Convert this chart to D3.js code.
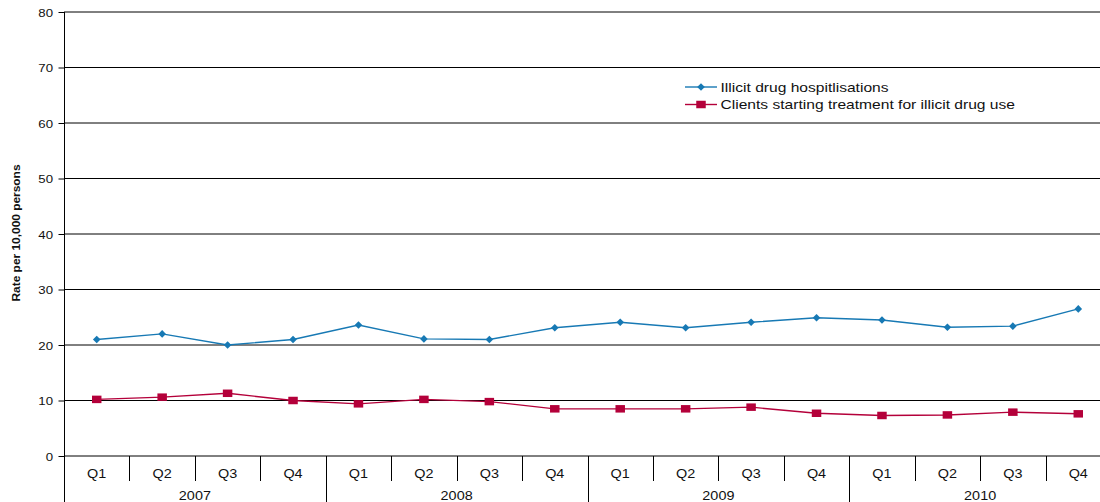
<!DOCTYPE html>
<html>
<head>
<meta charset="utf-8">
<script src="https://cdn.jsdelivr.net/npm/d3@7"></script>
<style>
  html, body { margin: 0; padding: 0; background: #fff; }
  svg { display: block; font-family: "Liberation Sans", Arial, sans-serif; }
</style>
</head>
<body>
<svg id="chart" width="1100" height="502"></svg>
<script>
// Quarterly rates per 10,000 persons, 2007–2010
const years = ["2007", "2008", "2009", "2010"];
const quarters = ["Q1", "Q2", "Q3", "Q4"];
const hospitalisations = [21.0, 22.0, 20.0, 21.0, 23.6, 21.1, 21.0, 23.1, 24.1, 23.1, 24.1, 24.9, 24.5, 23.2, 23.4, 26.5];
const treatmentStarts = [10.2, 10.6, 11.3, 10.0, 9.4, 10.2, 9.8, 8.5, 8.5, 8.5, 8.8, 7.7, 7.3, 7.4, 7.9, 7.6];
const yTicks = [0, 10, 20, 30, 40, 50, 60, 70, 80];

const seriesNames = ["Illicit drug hospitlisations", "Clients starting treatment for illicit drug use"];
const colors = ["#1779b4", "#b4003a"];

const periods = years.flatMap(yr => quarters.map(q => yr + " " + q));

const svg = d3.select("#chart");
const plotLeft = 64, plotTop = 12, plotBottom = 456, plotRight = 1111;
const textStretch = 1.2; // wide-set lettering

const x = d3.scaleBand().domain(periods).range([plotLeft, plotRight]).padding(0);
const y = d3.scaleLinear().domain([0, 80]).range([plotBottom, plotTop]);
const cx = p => x(p) + x.bandwidth() / 2;

// Place a text at (tx, ty) with horizontally widened glyphs
function placeText(sel, tx, ty) {
  sel.attr("x", 0).attr("y", 0)
    .attr("transform", (d, i) => {
      const px = typeof tx === "function" ? tx(d, i) : tx;
      const py = typeof ty === "function" ? ty(d, i) : ty;
      return `translate(${px},${py}) scale(${textStretch},1)`;
    });
}

// Horizontal gridlines
svg.append("g")
  .selectAll("line")
  .data(yTicks)
  .join("line")
  .attr("x1", plotLeft).attr("x2", 1100)
  .attr("y1", d => y(d)).attr("y2", d => y(d))
  .attr("stroke", "#000").attr("stroke-width", 1);

// Value axis
const yAxis = svg.append("g")
  .attr("transform", `translate(${plotLeft + 0.5},0)`)
  .call(d3.axisLeft(y).tickValues(yTicks).tickSize(6).tickPadding(5));
yAxis.select(".domain").remove();
yAxis.selectAll(".tick line").attr("stroke", "#000");
const yLabels = yAxis.selectAll(".tick text")
  .attr("font-size", 11).attr("fill", "#111")
  .attr("dy", "0.4em")
  .style("font-family", "'Liberation Sans', Arial, sans-serif");
placeText(yLabels, -11.5, 0);

// Left axis line down to the bottom of the category labels
svg.append("line")
  .attr("x1", plotLeft + 0.5).attr("x2", plotLeft + 0.5)
  .attr("y1", plotTop).attr("y2", 502)
  .attr("stroke", "#000");

// Quarter and year separators
svg.append("g")
  .selectAll("line")
  .data(periods.slice(1))
  .join("line")
  .attr("x1", d => Math.round(x(d)) + 0.5).attr("x2", d => Math.round(x(d)) + 0.5)
  .attr("y1", plotBottom)
  .attr("y2", d => d.endsWith("Q1") ? 502 : 481)
  .attr("stroke", "#000");

// Quarter labels
placeText(
  svg.append("g")
    .selectAll("text")
    .data(periods)
    .join("text")
    .attr("text-anchor", "middle")
    .attr("font-size", 12)
    .attr("fill", "#111")
    .text(d => d.split(" ")[1]),
  d => cx(d), 478);

// Year labels
placeText(
  svg.append("g")
    .selectAll("text")
    .data(years)
    .join("text")
    .attr("text-anchor", "middle")
    .attr("font-size", 12)
    .attr("fill", "#111")
    .text(d => d),
  d => (x(d + " Q1") + x(d + " Q4") + x.bandwidth()) / 2, 500);

// Axis title
svg.append("text")
  .attr("transform", "translate(20,233) rotate(-90)")
  .attr("text-anchor", "middle")
  .attr("font-size", 10.5)
  .attr("font-weight", "bold")
  .attr("textLength", 137)
  .attr("lengthAdjust", "spacingAndGlyphs")
  .attr("fill", "#111")
  .text("Rate per 10,000 persons");

// Marker shapes
function diamondPath(r) {
  return `M0,${-r}L${r},0L0,${r}L${-r},0Z`;
}
function boxPath(w, h) {
  return `M${-w / 2},${-h / 2}h${w}v${h}h${-w}Z`;
}
const markers = [diamondPath(3.8), boxPath(9.5, 7.5)];

// Series
const line = d3.line()
  .x((d, i) => cx(periods[i]))
  .y(d => y(d));

const allSeries = [hospitalisations, treatmentStarts];

allSeries.forEach((vals, si) => {
  svg.append("path")
    .datum(vals)
    .attr("d", line)
    .attr("fill", "none")
    .attr("stroke", colors[si])
    .attr("stroke-width", 1.4);
  svg.append("g")
    .selectAll("path")
    .data(vals)
    .join("path")
    .attr("d", markers[si])
    .attr("transform", (d, i) => `translate(${cx(periods[i])},${y(d)})`)
    .attr("fill", colors[si]);
});

// Legend
const legend = svg.append("g");
seriesNames.forEach((name, si) => {
  const ly = 87 + si * 17.5;
  legend.append("line")
    .attr("x1", 685).attr("x2", 717)
    .attr("y1", ly).attr("y2", ly)
    .attr("stroke", colors[si]).attr("stroke-width", 1.4);
  legend.append("path")
    .attr("d", markers[si])
    .attr("transform", `translate(701,${ly})`)
    .attr("fill", colors[si]);
  placeText(
    legend.append("text")
      .attr("font-size", 13)
      .attr("fill", "#111")
      .text(name),
    720.5, ly + 4.7);
});
</script>
</body>
</html>
